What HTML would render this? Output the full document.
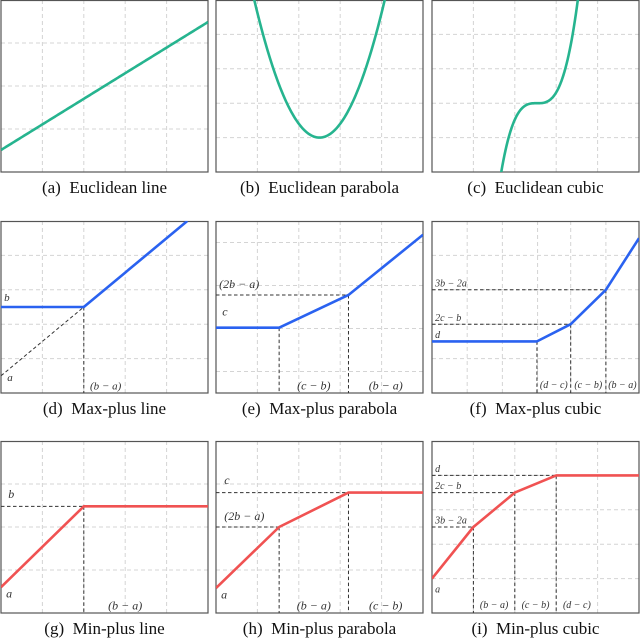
<!DOCTYPE html>
<html><head><meta charset="utf-8"><style>
html,body{margin:0;padding:0;background:#fff;overflow:hidden;width:640px;height:640px}
svg{display:block}
text{font-family:"Liberation Serif",serif}
.cap{font-size:17px;fill:#111;white-space:pre}
.ann{font-style:italic;fill:#333}
</style></head><body>
<svg id="chart" width="640" height="640" viewBox="0 0 640 640" xmlns="http://www.w3.org/2000/svg"></svg>
<script>
// Panel layout (domain x 0..10, y 0..10)
const panelIds = ['a','b','c','d','e','f','g','h','i'];
const captions = ['(a)  Euclidean line','(b)  Euclidean parabola','(c)  Euclidean cubic','(d)  Max-plus line','(e)  Max-plus parabola','(f)  Max-plus cubic','(g)  Min-plus line','(h)  Min-plus parabola','(i)  Min-plus cubic'];
const gridX = [[2,4,6,8],[2,4,6,8],[2,4,6,8],[2,4,6,8],[2,4,6,8],[1.7,3.4,5.1,6.7,8.4],[2,4,6,8],[2,4,6,8],[2,4,6,8]];
const gridY = [[2.5,5,7.5],[2,4,6,8],[2,4,6,8],[2,4,6,8],[1.25,3.75,6.25,8.75],[2,4,6,8],[2.5,5,7.5],[2.5,5,7.5],[2,4,6,8]];
// Euclidean curves
const lineCoef = [1.28, 0.744];          // intercept, slope
const parabolaCoef = [5, 2, 0.806];      // vertex x, vertex y, curvature
const cubicCoef = [5.07, 4, 0.78];       // center x, center y, k
// tropical polylines
const dX = [0,4,9], dY = [5,5,10];
const eX = [0,3.05,6.4,10], eY = [3.8,3.8,5.7,9.2];
const fX = [0,5.07,6.7,8.4,10], fY = [3,3,4,6,9];
const gX = [0,4,10], gY = [1.5,6.2,6.2];
const hX = [0,3.05,6.4,10], hY = [1.45,5,7,7];
const iX = [0,2,4,6,10], iY = [2,5,7,8,8];
const dA = 1; // max-plus line 'a' intercept

const colX=[1,216,432], rowY=[0,221,441], PW=207, PH=172;
const svg=document.getElementById('chart');
const NS='http://www.w3.org/2000/svg';
function mk(tag,attrs,parent){const e=document.createElementNS(NS,tag);for(const k in attrs)e.setAttribute(k,attrs[k]);(parent||svg).appendChild(e);return e;}
function sx(p,x){return colX[p%3]+x/10*PW;}
function sy(p,y){return rowY[Math.floor(p/3)]+PH-y/10*PH;}
const GREEN='#26b48f', BLUE='#2a62f0', RED='#f05252';

panelIds.forEach((id,p)=>{
  const g=mk('g',{});
  
  
  const cp=mk('clipPath',{id:'cp'+p},g);
  mk('rect',{x:colX[p%3],y:rowY[Math.floor(p/3)],width:PW,height:PH},cp);
  gridX[p].forEach(v=>{const l=mk('line',{x1:sx(p,v),x2:sx(p,v),y1:sy(p,0),y2:sy(p,10),stroke:'#d4d4d4','stroke-width':1,'stroke-dasharray':'4,3'},g);
    });
  gridY[p].forEach(v=>{const l=mk('line',{x1:sx(p,0),x2:sx(p,10),y1:sy(p,v),y2:sy(p,v),stroke:'#d4d4d4','stroke-width':1,'stroke-dasharray':'4,3'},g);
    });
  const fr=mk('rect',{x:colX[p%3],y:rowY[Math.floor(p/3)]+0.5,width:PW,height:PH-0.5,fill:'none',stroke:'#555','stroke-width':1.2},g);
  
  const c=mk('text',{x:colX[p%3]+PW/2,y:rowY[Math.floor(p/3)]+PH+21,'text-anchor':'middle',class:'cap'},g);
  c.textContent=captions[p];
  
});

function poly(p,xs,ys,color,name){
  const pts=xs.map((x,i)=>sx(p,x).toFixed(2)+','+sy(p,ys[i]).toFixed(2)).join(' ');
  const e=mk('polyline',{points:pts,fill:'none',stroke:color,'stroke-width':2.6,'stroke-linejoin':'round','clip-path':'url(#cp'+p+')'});
  
}
function dash(p,x1,y1,x2,y2){
  const e=mk('line',{x1:sx(p,x1),y1:sy(p,y1),x2:sx(p,x2),y2:sy(p,y2),stroke:'#333','stroke-width':1,'stroke-dasharray':'3.5,2.5'});
  
}
function ann(p,x,y,t,fs,anchor){
  const e=mk('text',{x:sx(p,x),y:sy(p,y),class:'ann','font-size':fs||12,'text-anchor':anchor||'start'});
  e.textContent=t;
}
// Euclidean
const xs=[],ys1=[],ys2=[],ys3=[];
for(let i=0;i<=200;i++){const x=i/20;xs.push(x);
  ys1.push(lineCoef[0]+lineCoef[1]*x);
  ys2.push(parabolaCoef[1]+parabolaCoef[2]*Math.pow(x-parabolaCoef[0],2));
  ys3.push(cubicCoef[1]+cubicCoef[2]*Math.pow(x-cubicCoef[0],3));}
poly(0,xs,ys1,GREEN,'euclidean-line');
poly(1,xs,ys2,GREEN,'euclidean-parabola');
poly(2,xs,ys3,GREEN,'euclidean-cubic');

// d
dash(3,0,dA,dX[1],dY[1]); dash(3,dX[1],dY[1],dX[1],0);
poly(3,dX,dY,BLUE,'maxplus-line');
ann(3,0.15,dY[1]+0.35,'b',11); ann(3,0.3,dA-0.3,'a',11); ann(3,dX[1]+0.3,0.2,'(b − a)',11);
// e
dash(4,0,eY[2],eX[2],eY[2]); dash(4,eX[1],eY[1],eX[1],0); dash(4,eX[2],eY[2],eX[2],0);
poly(4,eX,eY,BLUE,'maxplus-parabola');
ann(4,0.15,eY[2]+0.4,'(2b − a)',12); ann(4,0.3,eY[1]+0.7,'c',12);
ann(4,(eX[1]+eX[2])/2,0.2,'(c − b)',12,'middle'); ann(4,(eX[2]+10)/2,0.2,'(b − a)',12,'middle');
// f
dash(5,0,fY[3],fX[3],fY[3]); dash(5,0,fY[2],fX[2],fY[2]);
[1,2,3].forEach(k=>dash(5,fX[k],fY[k],fX[k],0));
poly(5,fX,fY,BLUE,'maxplus-cubic');
ann(5,0.15,fY[3]+0.2,'3b − 2a',10); ann(5,0.15,fY[2]+0.2,'2c − b',10); ann(5,0.15,fY[1]+0.2,'d',10);
ann(5,(fX[1]+fX[2])/2,0.3,'(d − c)',10,'middle'); ann(5,(fX[2]+fX[3])/2,0.3,'(c − b)',10,'middle'); ann(5,(fX[3]+10)/2,0.3,'(b − a)',10,'middle');
// g
dash(6,0,gY[1],gX[1],gY[1]); dash(6,gX[1],gY[1],gX[1],0);
poly(6,gX,gY,RED,'minplus-line');
ann(6,0.35,gY[1]+0.5,'b',12); ann(6,0.25,gY[0]-0.6,'a',12);
ann(6,(gX[1]+10)/2-1,0.2,'(b − a)',12,'middle');
// h
dash(7,0,hY[1],hX[1],hY[1]); dash(7,0,hY[2],hX[2],hY[2]);
dash(7,hX[1],hY[1],hX[1],0); dash(7,hX[2],hY[2],hX[2],0);
poly(7,hX,hY,RED,'minplus-parabola');
ann(7,0.4,hY[2]+0.5,'c',12); ann(7,0.4,hY[1]+0.4,'(2b − a)',12); ann(7,0.25,hY[0]-0.6,'a',12);
ann(7,(hX[1]+hX[2])/2,0.2,'(b − a)',12,'middle'); ann(7,(hX[2]+10)/2,0.2,'(c − b)',12,'middle');
// i
[1,2,3].forEach(k=>{dash(8,0,iY[k],iX[k],iY[k]);dash(8,iX[k],iY[k],iX[k],0);});
poly(8,iX,iY,RED,'minplus-cubic');
ann(8,0.15,iY[3]+0.2,'d',10); ann(8,0.15,iY[2]+0.2,'2c − b',10); ann(8,0.15,iY[1]+0.2,'3b − 2a',10); ann(8,0.15,iY[0]-0.8,'a',10);
ann(8,(iX[1]+iX[2])/2,0.3,'(b − a)',10,'middle'); ann(8,(iX[2]+iX[3])/2,0.3,'(c − b)',10,'middle'); ann(8,iX[3]+1,0.3,'(d − c)',10,'middle');
</script>
</body></html>
